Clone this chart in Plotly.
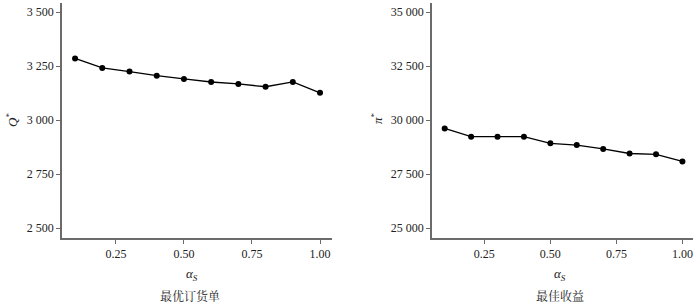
import plotly.graph_objects as go

alpha = [0.1, 0.2, 0.3, 0.4, 0.5, 0.6, 0.7, 0.8, 0.9, 1.0]
q_opt = [3285, 3241, 3224, 3205, 3190, 3176, 3167, 3154, 3176, 3126]
profit = [29610, 29230, 29230, 29230, 28920, 28840, 28660, 28450, 28410, 28080]

x_ticks = [0.25, 0.50, 0.75, 1.00]
x_ticktext = ["0.25", "0.50", "0.75", "1.00"]
q_ticks = [2500, 2750, 3000, 3250, 3500]
q_ticktext = ["2 500", "2 750", "3 000", "3 250", "3 500"]
p_ticks = [25000, 27500, 30000, 32500, 35000]
p_ticktext = ["25 000", "27 500", "30 000", "32 500", "35 000"]

W, H = 700, 304
font_serif = "Liberation Serif, Times New Roman, serif"
axis_color = "#6b6b6b"

plot_top, plot_bot = 3, 238
MT, MB = plot_top, H - plot_bot

def px(x):
    return x / W

def py(y):
    return (plot_bot - y) / (plot_bot - plot_top)

fig = go.Figure()
fig.add_trace(go.Scatter(x=alpha, y=q_opt, mode="lines+markers",
                         line=dict(color="black", width=1.3),
                         marker=dict(color="black", size=6),
                         xaxis="x", yaxis="y", showlegend=False))
fig.add_trace(go.Scatter(x=alpha, y=profit, mode="lines+markers",
                         line=dict(color="black", width=1.3),
                         marker=dict(color="black", size=6),
                         xaxis="x2", yaxis="y2", showlegend=False))

common_ax = dict(showline=True, linecolor=axis_color, linewidth=1.5,
                 ticks="outside", ticklen=4, tickcolor=axis_color, tickwidth=1,
                 showgrid=False, zeroline=False,
                 tickfont=dict(family=font_serif, size=12, color="#222"))

q_per_px = 250 / 54.0
p_per_px = 2500 / 54.0
fig.update_layout(
    width=W, height=H,
    margin=dict(l=0, r=0, t=MT, b=MB),
    paper_bgcolor="white", plot_bgcolor="white",
    xaxis=dict(domain=[px(62), px(332)], range=[0.052, 1.044], anchor="y",
               tickvals=x_ticks, ticktext=x_ticktext, **common_ax),
    yaxis=dict(domain=[0, 1], range=[2500 - 10 * q_per_px, 2500 + 225 * q_per_px], anchor="x",
               tickvals=q_ticks, ticktext=q_ticktext, **common_ax),
    xaxis2=dict(domain=[px(432), px(693)], range=[0.052, 1.04], anchor="y2",
                tickvals=x_ticks, ticktext=x_ticktext, **common_ax),
    yaxis2=dict(domain=[0, 1], range=[25000 - 10 * p_per_px, 25000 + 225 * p_per_px], anchor="x2",
                tickvals=p_ticks, ticktext=p_ticktext, **common_ax),
)

ann = [
    dict(text="<i>Q</i><sup>*</sup>", x=12, y=120, textangle=-90),
    dict(text="<i>π</i><sup>*</sup>", x=377, y=118, textangle=-90),
    dict(text="<i>α<sub>S</sub></i>", x=192, y=274, textangle=0),
    dict(text="<i>α<sub>S</sub></i>", x=560, y=274, textangle=0),
]
for a in ann:
    fig.add_annotation(text=a["text"], xref="paper", yref="paper", x=px(a["x"]), y=py(a["y"]),
                       xanchor="center", yanchor="middle", showarrow=False,
                       textangle=a["textangle"],
                       font=dict(family=font_serif, size=13, color="#222"))

for txt, xp in [("最优订货单", 190), ("最佳收益", 560)]:
    fig.add_annotation(text=txt, xref="paper", yref="paper", x=px(xp), y=py(295),
                       xanchor="center", yanchor="middle", showarrow=False,
                       font=dict(family="Noto Serif CJK SC, Noto Sans CJK SC", size=12, color="#222"))

fig.write_html("out.html", config={"displayModeBar": False},
               post_script="document.body.style.margin='0';document.body.style.overflow='hidden';")
